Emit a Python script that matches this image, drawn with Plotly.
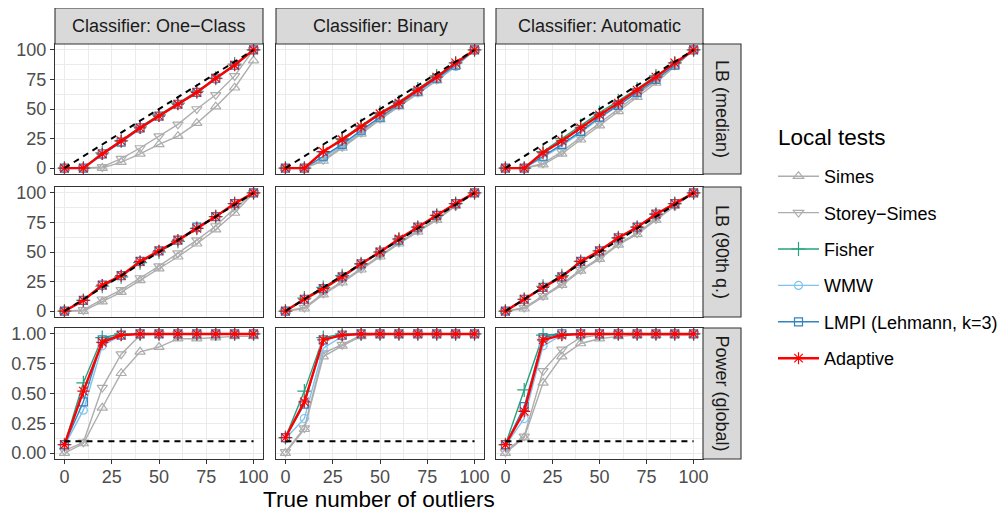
import plotly.graph_objects as go

# ---------------- data ----------------
n_outliers = [0, 10, 20, 30, 40, 50, 60, 70, 80, 90, 100]
classifiers = ["Classifier: One\u2212Class", "Classifier: Binary", "Classifier: Automatic"]
metrics = ["LB (median)", "LB (90th q.)", "Power (global)"]
series_names = ["Simes", "Storey\u2212Simes", "Fisher", "WMW", "LMPI (Lehmann, k=3)", "Adaptive"]
legend_title = "Local tests"
x_title = "True number of outliers"

# LB (median)
simes_oc_med = [0, 0, 0, 5, 12, 20, 27, 38, 52, 68, 91]
storey_oc_med = [0, 0, 1, 8, 17, 27, 37, 50, 62, 78, 100]
fisher_oc_med = [0, 0, 13, 23, 35, 45, 55, 65, 76, 88, 100]
wmw_oc_med = [0, 0, 11, 22, 33, 44, 54, 64, 75, 87, 100]
lmpi_oc_med = [0, 0, 12, 22, 34, 44, 54, 64, 76, 87, 100]
adapt_oc_med = [0, 0, 12, 23, 34, 44, 54, 64, 76, 87, 100]

simes_bin_med = [0, 0, 6, 17, 29, 41, 52, 63, 74, 86, 100]
storey_bin_med = [0, 0, 7, 18, 30, 42, 53, 64, 75, 87, 100]
fisher_bin_med = [0, 0, 14, 25, 36, 47, 56, 67, 78, 89, 100]
wmw_bin_med = [0, 0, 9, 19, 31, 43, 54, 64, 75, 86, 100]
lmpi_bin_med = [0, 0, 10, 20, 32, 43, 54, 65, 76, 87, 100]
adapt_bin_med = [0, 0, 14, 24, 35, 46, 55, 66, 77, 89, 100]

simes_aut_med = [0, 0, 3, 12, 24, 36, 48, 60, 72, 86, 100]
storey_aut_med = [0, 0, 4, 14, 26, 38, 50, 62, 74, 87, 100]
fisher_aut_med = [0, 0, 14, 25, 36, 47, 57, 67, 78, 89, 100]
wmw_aut_med = [0, 0, 9, 19, 30, 42, 53, 64, 75, 87, 100]
lmpi_aut_med = [0, 0, 10, 20, 31, 43, 53, 64, 75, 87, 100]
adapt_aut_med = [0, 0, 13, 23, 34, 45, 55, 66, 77, 89, 100]

# LB (90th quantile)
simes_oc_q90 = [0, 0, 8, 16, 26, 36, 46, 57, 69, 83, 100]
storey_oc_q90 = [0, 1, 10, 18, 28, 38, 49, 60, 72, 87, 100]
fisher_oc_q90 = [0, 9, 21, 29, 41, 50, 59, 70, 80, 91, 100]
wmw_oc_q90 = [0, 9, 22, 30, 42, 51, 60, 70, 80, 91, 100]
lmpi_oc_q90 = [0, 9, 22, 30, 42, 51, 60, 71, 80, 91, 100]
adapt_oc_q90 = [0, 9, 22, 30, 42, 51, 60, 70, 80, 91, 100]

simes_bin_q90 = [0, 2, 14, 24, 35, 46, 57, 67, 77, 89, 100]
storey_bin_q90 = [0, 3, 15, 25, 36, 47, 58, 68, 78, 89, 100]
fisher_bin_q90 = [0, 11, 20, 30, 40, 50, 61, 71, 81, 91, 100]
wmw_bin_q90 = [0, 10, 19, 29, 39, 50, 60, 70, 81, 91, 100]
lmpi_bin_q90 = [0, 10, 19, 29, 40, 50, 60, 71, 81, 91, 100]
adapt_bin_q90 = [0, 10, 19, 29, 40, 50, 61, 71, 81, 91, 100]

simes_aut_q90 = [0, 2, 12, 22, 34, 44, 56, 65, 77, 89, 100]
storey_aut_q90 = [0, 3, 13, 23, 35, 45, 57, 66, 78, 89, 100]
fisher_aut_q90 = [0, 10, 21, 30, 42, 51, 62, 71, 82, 91, 100]
wmw_aut_q90 = [0, 10, 20, 29, 41, 51, 61, 71, 81, 91, 100]
lmpi_aut_q90 = [0, 10, 20, 29, 42, 51, 62, 71, 82, 91, 100]
adapt_aut_q90 = [0, 10, 20, 29, 42, 51, 62, 71, 82, 91, 100]

# Power (global)
simes_oc_pow = [0.00, 0.08, 0.38, 0.67, 0.85, 0.89, 0.96, 0.96, 0.97, 0.98, 0.98]
storey_oc_pow = [0.02, 0.09, 0.55, 0.83, 0.99, 1, 1, 1, 1, 1, 1]
fisher_oc_pow = [0.07, 0.59, 0.97, 1, 1, 1, 1, 1, 1, 1, 1]
wmw_oc_pow = [0.06, 0.36, 0.90, 0.99, 1, 1, 1, 1, 1, 1, 1]
lmpi_oc_pow = [0.07, 0.43, 0.95, 0.99, 1, 1, 1, 1, 1, 1, 1]
adapt_oc_pow = [0.07, 0.52, 0.93, 0.99, 1, 1, 1, 1, 1, 1, 1]

simes_bin_pow = [0.00, 0.20, 0.81, 0.90, 0.98, 1, 1, 1, 1, 1, 1]
storey_bin_pow = [0.01, 0.21, 0.84, 0.91, 0.99, 1, 1, 1, 1, 1, 1]
fisher_bin_pow = [0.13, 0.52, 0.97, 1, 1, 1, 1, 1, 1, 1, 1]
wmw_bin_pow = [0.12, 0.29, 0.88, 0.98, 1, 1, 1, 1, 1, 1, 1]
lmpi_bin_pow = [0.13, 0.41, 0.95, 0.99, 1, 1, 1, 1, 1, 1, 1]
adapt_bin_pow = [0.13, 0.43, 0.95, 0.99, 1, 1, 1, 1, 1, 1, 1]

simes_aut_pow = [0.00, 0.13, 0.59, 0.81, 0.92, 0.96, 0.98, 0.99, 0.99, 0.99, 0.99]
storey_aut_pow = [0.01, 0.14, 0.69, 0.87, 0.97, 0.99, 1, 1, 1, 1, 1]
fisher_aut_pow = [0.07, 0.53, 0.99, 1, 1, 1, 1, 1, 1, 1, 1]
wmw_aut_pow = [0.06, 0.29, 0.90, 0.99, 1, 1, 1, 1, 1, 1, 1]
lmpi_aut_pow = [0.07, 0.39, 0.97, 1, 1, 1, 1, 1, 1, 1, 1]
adapt_aut_pow = [0.07, 0.35, 0.95, 0.99, 1, 1, 1, 1, 1, 1, 1]

ref_line_x = [0, 100]
ref_lb_y = [0, 100]
alpha_level = 0.1

x_ticks = [0, 25, 50, 75, 100]
lb_ticks = [0, 25, 50, 75, 100]
pow_ticks = [0, 0.25, 0.5, 0.75, 1.0]

panel_data = {
    (0, 0): [simes_oc_med, storey_oc_med, fisher_oc_med, wmw_oc_med, lmpi_oc_med, adapt_oc_med],
    (0, 1): [simes_bin_med, storey_bin_med, fisher_bin_med, wmw_bin_med, lmpi_bin_med, adapt_bin_med],
    (0, 2): [simes_aut_med, storey_aut_med, fisher_aut_med, wmw_aut_med, lmpi_aut_med, adapt_aut_med],
    (1, 0): [simes_oc_q90, storey_oc_q90, fisher_oc_q90, wmw_oc_q90, lmpi_oc_q90, adapt_oc_q90],
    (1, 1): [simes_bin_q90, storey_bin_q90, fisher_bin_q90, wmw_bin_q90, lmpi_bin_q90, adapt_bin_q90],
    (1, 2): [simes_aut_q90, storey_aut_q90, fisher_aut_q90, wmw_aut_q90, lmpi_aut_q90, adapt_aut_q90],
    (2, 0): [simes_oc_pow, storey_oc_pow, fisher_oc_pow, wmw_oc_pow, lmpi_oc_pow, adapt_oc_pow],
    (2, 1): [simes_bin_pow, storey_bin_pow, fisher_bin_pow, wmw_bin_pow, lmpi_bin_pow, adapt_bin_pow],
    (2, 2): [simes_aut_pow, storey_aut_pow, fisher_aut_pow, wmw_aut_pow, lmpi_aut_pow, adapt_aut_pow],
}

# ---------------- styles ----------------
colors = ["#ADADAD", "#ADADAD", "#24A27E", "#7EC3EE", "#3283BE", "#FF0000"]
symbols = ["triangle-up-open", "triangle-down-open", "cross-thin-open", "circle-open",
           "square-open", "asterisk-open"]
line_widths = [1.4, 1.4, 1.4, 1.4, 1.4, 2.4]
marker_sizes = [9, 9, 10, 8, 8, 10]

FONT = "Liberation Sans, Arial, sans-serif"

# The page body adds an 8px offset, so the figure is sized to the remaining window
OFF = 8
W, H = 1008 - OFF, 517 - OFF

def fx(px):  # reference-window x pixel -> figure pixel
    return px - OFF

def fy(py):
    return py - OFF

PL, PR, PT, PB = fx(55), fx(741), fy(8), fy(459)   # full panel+strip area
ML, MR, MT, MB = PL, W - PR, PT, H - PB
PW = PR - PL
PH = PB - PT

def dom_x(a, b):
    return ((fx(a) - PL) / PW, (fx(b) - PL) / PW)

def dom_y(top, bottom):
    return ((PB - fy(bottom)) / PH, (PB - fy(top)) / PH)

def pap_x(px):
    return (fx(px) - PL) / PW

def pap_y(py):
    return (PB - fy(py)) / PH

x_dom = [dom_x(55, 263), dom_x(276, 484), dom_x(496, 703)]
y_dom = [dom_y(44, 174), dom_y(187, 317), dom_y(328, 459)]
strip_top = dom_y(8, 44)
strip_right = dom_x(703, 741)

fig = go.Figure()
layout = dict()

for r in range(3):
    for c in range(3):
        i = r * 3 + c + 1
        xa = "x" if i == 1 else f"x{i}"
        ya = "y" if i == 1 else f"y{i}"
        series = panel_data[(r, c)]
        for k, name in enumerate(series_names):
            fig.add_trace(go.Scatter(
                x=n_outliers, y=series[k], mode="lines+markers", name=name,
                legendgroup=name, showlegend=(i == 1),
                line=dict(color=colors[k], width=line_widths[k]),
                marker=dict(symbol=symbols[k], size=marker_sizes[k], color=colors[k],
                            line=dict(color=colors[k], width=1.2)),
                xaxis=xa, yaxis=ya))
        if r < 2:
            ref_y = ref_lb_y
        else:
            ref_y = [alpha_level, alpha_level]
        fig.add_trace(go.Scatter(
            x=ref_line_x, y=ref_y, mode="lines", showlegend=False, hoverinfo="skip",
            line=dict(color="black", width=2, dash="6px,5px"),
            xaxis=xa, yaxis=ya))

        xkey = "xaxis" if i == 1 else f"xaxis{i}"
        ykey = "yaxis" if i == 1 else f"yaxis{i}"
        layout[xkey] = dict(
            domain=list(x_dom[c]), anchor=ya, range=[-5, 105],
            tickvals=x_ticks, ticktext=[str(v) for v in x_ticks],
            showticklabels=(r == 2), ticks="outside" if r == 2 else "",
            ticklen=4, tickwidth=1, tickcolor="#333333", ticklabelstandoff=-3,
            tickfont=dict(size=18, color="#4D4D4D", family=FONT),
            showgrid=True, gridcolor="#EBEBEB", gridwidth=1.1,
            minor=dict(dtick=12.5, tick0=0, showgrid=True, gridcolor="#EBEBEB", gridwidth=0.55),
            showline=True, mirror=True, linecolor="#333333", linewidth=1.1,
            zeroline=False)
        if r < 2:
            yt = lb_ticks
            ytext = [str(v) for v in lb_ticks]
            yr = [-5, 105]
            ydt = 12.5
        else:
            yt = pow_ticks
            ytext = [f"{v:.2f}" for v in pow_ticks]
            yr = [-0.05, 1.05]
            ydt = 0.125
        layout[ykey] = dict(
            domain=list(y_dom[r]), anchor=xa, range=yr,
            tickvals=yt, ticktext=ytext,
            showticklabels=(c == 0), ticks="outside" if c == 0 else "",
            ticklen=4, tickwidth=1, tickcolor="#333333",
            tickfont=dict(size=18, color="#4D4D4D", family=FONT),
            showgrid=True, gridcolor="#EBEBEB", gridwidth=1.1,
            minor=dict(dtick=ydt, tick0=0, showgrid=True, gridcolor="#EBEBEB", gridwidth=0.55),
            showline=True, mirror=True, linecolor="#333333", linewidth=1.1,
            zeroline=False)

shapes = []
annotations = []
for c in range(3):
    shapes.append(dict(type="rect", xref="paper", yref="paper",
                       x0=x_dom[c][0], x1=x_dom[c][1], y0=strip_top[0], y1=strip_top[1],
                       fillcolor="#D9D9D9", line=dict(color="#333333", width=1.1), layer="above"))
    annotations.append(dict(text=classifiers[c], xref="paper", yref="paper",
                            x=(x_dom[c][0] + x_dom[c][1]) / 2, y=(strip_top[0] + strip_top[1]) / 2,
                            xanchor="center", yanchor="middle", showarrow=False,
                            font=dict(size=18, color="#1A1A1A", family=FONT)))
for r in range(3):
    shapes.append(dict(type="rect", xref="paper", yref="paper",
                       x0=strip_right[0], x1=strip_right[1], y0=y_dom[r][0], y1=y_dom[r][1],
                       fillcolor="#D9D9D9", line=dict(color="#333333", width=1.1), layer="above"))
    annotations.append(dict(text=metrics[r], xref="paper", yref="paper",
                            x=(strip_right[0] + strip_right[1]) / 2, y=(y_dom[r][0] + y_dom[r][1]) / 2,
                            xanchor="center", yanchor="middle", showarrow=False, textangle=90,
                            font=dict(size=18, color="#1A1A1A", family=FONT)))

annotations.append(dict(text=x_title, xref="paper", yref="paper",
                        x=(x_dom[0][0] + x_dom[2][1]) / 2, y=pap_y(499),
                        xanchor="center", yanchor="middle", showarrow=False,
                        font=dict(size=22.5, color="black", family=FONT)))
annotations.append(dict(text=legend_title, xref="paper", yref="paper",
                        x=pap_x(776), y=pap_y(138), xanchor="left", yanchor="middle",
                        showarrow=False, font=dict(size=22.5, color="black", family=FONT)))

fig.update_layout(
    **layout,
    width=W, height=H, autosize=False,
    margin=dict(l=ML, r=MR, t=MT, b=MB, autoexpand=False),
    paper_bgcolor="white", plot_bgcolor="white",
    font=dict(family=FONT),
    shapes=shapes, annotations=annotations,
    showlegend=True,
    legend=dict(
        font=dict(size=18, color="black", family=FONT),
        x=pap_x(773), y=pap_y(158), xanchor="left", yanchor="top",
        tracegroupgap=10, itemwidth=41, bgcolor="rgba(0,0,0,0)"),
)

fig.write_html("out.html")
